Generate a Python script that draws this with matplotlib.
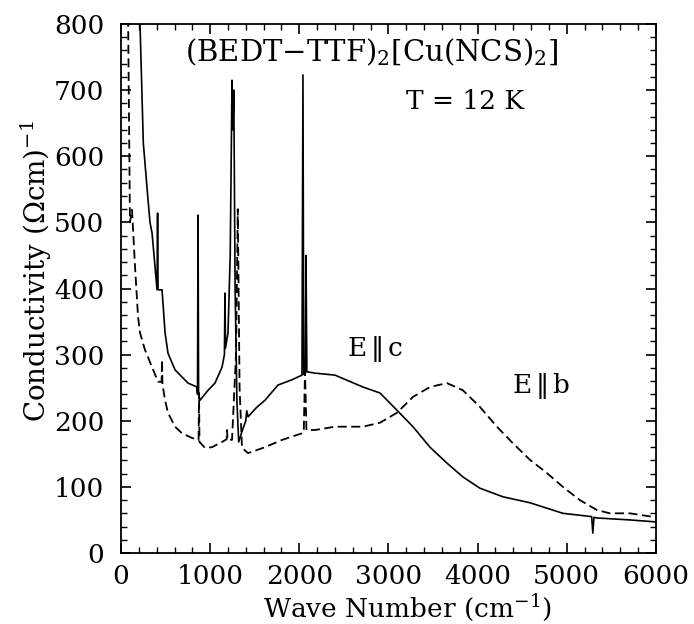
import numpy as np
import matplotlib.pyplot as plt
from matplotlib.ticker import MultipleLocator

# ==== Data ====
# E || c  (solid)
wn_c = [195, 213, 250, 303, 325, 348, 404, 410, 415, 420, 460, 494, 527, 606, 751, 852,
        858, 864, 870, 886, 976, 1054, 1133, 1160, 1166, 1172, 1200, 1225, 1245, 1255,
        1265, 1280, 1300, 1320, 1360, 1400, 1410, 1425, 1520, 1615, 1761, 1918, 2030,
        2041, 2050, 2068, 2075, 2085, 2176, 2400, 2714, 2905, 3095, 3275, 3466, 3656,
        3836, 4026, 4284, 4587, 4957, 5280, 5293, 5306, 5338, 5708, 6000]
sigma_c = [830, 800, 620, 534, 500, 484, 398, 514, 400, 398, 398, 333, 302, 277, 257, 251,
           240, 511, 240, 231, 246, 257, 281, 300, 393, 310, 333, 450, 715, 640,
           700, 400, 230, 168, 185, 200, 215, 206, 220, 231, 254, 262, 269,
           723, 270, 272, 450, 274, 272, 269, 251, 242, 216, 191, 160, 136,
           115, 98, 85, 76, 60, 55, 30, 54, 53, 50, 47]

# E || b  (dashed)
wn_b = [70, 80, 100, 123, 157, 191, 213, 269, 348, 415, 455, 460, 465, 494, 527, 606,
        684, 796, 870, 875, 880, 942, 1021, 1133, 1185, 1189, 1195, 1245, 1290, 1310,
        1330, 1357, 1425, 1615, 1806, 2030, 2050, 2064, 2080, 2176, 2400, 2714, 2905,
        3095, 3275, 3466, 3656, 3836, 4026, 4217, 4396, 4587, 4777, 4957, 5148, 5338,
        5484, 5708, 6000]
sigma_b = [830, 800, 500, 519, 433, 357, 333, 307, 281, 259, 259, 292, 255, 231, 212, 191,
           181, 174, 171, 242, 168, 159, 160, 168, 172, 186, 172, 171, 300, 520,
           250, 159, 151, 160, 171, 181, 183, 275, 186, 186, 191, 191, 197,
           212, 236, 251, 257, 246, 221, 191, 166, 141, 121, 100, 80, 65,
           60, 60, 54]

# ==== Plot ====
plt.rcParams['font.family'] = 'DejaVu Serif'
plt.rcParams['mathtext.fontset'] = 'dejavuserif'

fig = plt.figure(figsize=(6.94, 6.24), dpi=100)
ax = fig.add_axes([0.1744, 0.1138, 0.7706, 0.8477])

ax.plot(wn_c, sigma_c, color='black', lw=1.2)
ax.plot(wn_b, sigma_b, color='black', lw=1.3, linestyle=(0, (5, 2.5)))

ax.set_xlim(0, 6000)
ax.set_ylim(0, 800)
ax.xaxis.set_major_locator(MultipleLocator(1000))
ax.xaxis.set_minor_locator(MultipleLocator(200))
ax.yaxis.set_major_locator(MultipleLocator(100))
ax.yaxis.set_minor_locator(MultipleLocator(20))
ax.tick_params(which='both', direction='in', top=True, right=True, labelsize=19)
ax.tick_params(which='major', length=7, width=1.2)
ax.tick_params(which='minor', length=4, width=1)
ax.tick_params(axis='y', pad=12)
ax.tick_params(axis='x', pad=8)
for s in ax.spines.values():
    s.set_linewidth(1.3)

ax.set_xlabel(r"Wave Number (cm$^{-1}$)", fontsize=19)
ax.set_ylabel(r"Conductivity ($\Omega$cm)$^{-1}$", fontsize=20)
ax.xaxis.label.set_va('bottom')
ax.xaxis.set_label_coords(0.535, -0.132)
ax.yaxis.set_label_coords(-0.125, 0.533)

ax.text(0.469, 0.947, r"(BEDT$-$TTF)$_2$[Cu(NCS)$_2$]", transform=ax.transAxes,
        ha='center', va='center', fontsize=21)
ax.text(0.643, 0.854, "T = 12 K", transform=ax.transAxes, ha='center', va='center', fontsize=19)
ax.text(0.475, 0.386, r"E$\,\|\,$c", transform=ax.transAxes, ha='center', va='center', fontsize=19)
ax.text(0.785, 0.316, r"E$\,\|\,$b", transform=ax.transAxes, ha='center', va='center', fontsize=19)

fig.savefig("out.png", dpi=100)
